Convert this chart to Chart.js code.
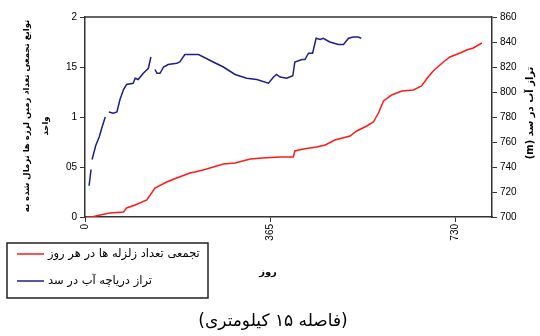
<!DOCTYPE html>
<html lang="fa">
<head>
  <meta charset="UTF-8">
  <title>Cumulative earthquakes and dam level</title>
  <script src="https://cdn.jsdelivr.net/npm/chart.js"></script>
  <style>
    html, body { margin: 0; padding: 0; background: #fff; }
    #wrap { width: 540px; height: 336px; }
  </style>
</head>
<body>
  <div id="wrap"><canvas id="chart" width="540" height="336"></canvas></div>
  <script>
    // x ticks (days) and left tick labels as they appear
    const dayTicks = [0, 365, 730];
    const leftTickLabels = { 0: '0', 0.5: '05', 1: '1', 1.5: '15', 2: '2' };

    // cumulative earthquakes (normalised), left axis
    const redDays = [3, 13, 30, 49, 76, 82, 99, 122, 138, 161, 181, 207, 217, 240, 273, 296, 326, 349, 385, 411, 414, 431, 457, 474, 493, 523, 536, 556, 569, 579, 589, 605, 625, 648, 664, 677, 687, 707, 720, 740, 753, 766, 783];
    const redValues = [0, 0, 0.02, 0.04, 0.05, 0.09, 0.12, 0.17, 0.29, 0.35, 0.39, 0.44, 0.45, 0.48, 0.53, 0.54, 0.58, 0.59, 0.60, 0.60, 0.66, 0.68, 0.70, 0.72, 0.77, 0.81, 0.86, 0.91, 0.95, 1.04, 1.16, 1.22, 1.26, 1.27, 1.31, 1.40, 1.46, 1.55, 1.60, 1.64, 1.67, 1.69, 1.74];

    // water level in the dam (m), right axis; null = gap
    const blueDays = [8, 12, 13, 14, 21, 28, 33, 40, 44, 47, 56, 63, 69, 76, 82, 95, 99, 105, 109, 115, 125, 130, 134, 138, 142, 148, 155, 164, 181, 187, 197, 224, 253, 273, 296, 319, 339, 362, 372, 378, 385, 398, 410, 414, 428, 434, 441, 449, 456, 464, 470, 483, 500, 510, 520, 529, 539, 545];
    const blueValues = [725, 738, null, 746, 757, 764, 771, 780, null, 784, 783, 784, 794, 802, 806, 807, 811, 810, 812, 815, 819, 828, null, 818, 815, 815, 820, 822, 823, 824, 830, 830, 824, 820, 814, 811, 810, 807, 812, 814, 812, 811, 813, 824, 826, 826, 831, 831, 843, 842, 843, 840, 838, 838, 843, 844, 844, 843];

    const redLabel = 'تجمعی تعداد زلزله ها در هر روز';
    const blueLabel = 'تراز دریاچه آب در سد';

    const toPoints = (xs, ys) => xs.map((x, i) => ({ x: x, y: ys[i] }));

    const persian = '"DejaVu Sans", sans-serif';

    const decor = {
      id: 'decor',
      afterDraw(chart) {
        const ctx = chart.ctx;
        const a = chart.chartArea;
        ctx.save();
        // top border of the plot box
        ctx.strokeStyle = '#333';
        ctx.lineWidth = 1.5;
        ctx.beginPath();
        ctx.moveTo(a.left, a.top);
        ctx.lineTo(a.right, a.top);
        ctx.stroke();

        ctx.fillStyle = '#000';
        ctx.textAlign = 'center';
        ctx.textBaseline = 'middle';

        // left title (two lines, rotated)
        ctx.save();
        ctx.translate(27, 116);
        ctx.rotate(-Math.PI / 2);
        ctx.font = 'bold 8.5px ' + persian;
        ctx.direction = 'rtl';
        ctx.fillText('توابع تجمعی تعداد زمین لرزه ها نرمال شده به', 0, 0);
        ctx.fillText('واحد', -10, 19);
        ctx.restore();

        // right title
        ctx.save();
        ctx.translate(530, 113);
        ctx.rotate(-Math.PI / 2);
        ctx.font = 'bold 10px ' + persian;
        ctx.direction = 'rtl';
        ctx.fillText('تراز آب در سد (m)', 0, 0);
        ctx.restore();

        // x title
        ctx.font = 'bold 10px ' + persian;
        ctx.direction = 'rtl';
        ctx.fillText('روز', 268, 272);

        // caption
        ctx.font = '17px ' + persian;
        ctx.fillText('(فاصله ۱۵ کیلومتری)', 273, 322);

        // legend box
        ctx.lineWidth = 1.5;
        ctx.strokeStyle = '#222';
        ctx.strokeRect(7, 243, 201, 55);
        const items = chart.data.datasets;
        const rows = [254, 281];
        items.forEach((ds, i) => {
          ctx.strokeStyle = ds.borderColor;
          ctx.lineWidth = 1.5;
          ctx.beginPath();
          ctx.moveTo(17, rows[i]);
          ctx.lineTo(44, rows[i]);
          ctx.stroke();
          ctx.fillStyle = '#000';
          ctx.font = '11.5px ' + persian;
          ctx.direction = 'ltr';
          ctx.textAlign = 'left';
          ctx.fillText(ds.label, 48, rows[i]);
        });
        ctx.restore();
      }
    };

    new Chart(document.getElementById('chart'), {
      type: 'line',
      data: {
        datasets: [{
          label: redLabel,
          data: toPoints(redDays, redValues),
          borderColor: '#ff1a1a',
          borderWidth: 1.5,
          pointRadius: 0,
          yAxisID: 'y',
          tension: 0
        }, {
          label: blueLabel,
          data: toPoints(blueDays, blueValues),
          borderColor: '#1c1f8c',
          borderWidth: 1.5,
          pointRadius: 0,
          spanGaps: false,
          yAxisID: 'y2',
          tension: 0
        }]
      },
      options: {
        responsive: false,
        animation: false,
        layout: { padding: { top: 17, left: 0, right: 0, bottom: 0 } },
        plugins: { legend: { display: false }, tooltip: { enabled: false } },
        scales: {
          x: {
            type: 'linear',
            min: 0,
            max: 803,
            afterBuildTicks: (axis) => { axis.ticks = dayTicks.map(v => ({ value: v })); },
            afterFit: (axis) => { axis.height = 119; },
            ticks: {
              minRotation: 90,
              maxRotation: 90,
              color: '#000',
              font: { family: 'Liberation Sans', size: 10 },
              padding: 2
            },
            grid: { drawOnChartArea: false, tickLength: 5, color: '#333' },
            border: { color: '#333', width: 1.5 }
          },
          y: {
            position: 'left',
            min: 0,
            max: 2,
            afterFit: (axis) => { axis.width = 85; },
            ticks: {
              stepSize: 0.5,
              color: '#000',
              font: { family: 'Liberation Sans', size: 10 },
              padding: 3,
              callback: (v) => leftTickLabels[v]
            },
            grid: { drawOnChartArea: false, tickLength: 5, color: '#333' },
            border: { color: '#333', width: 1.5 }
          },
          y2: {
            position: 'right',
            min: 700,
            max: 860,
            afterFit: (axis) => { axis.width = 48; },
            ticks: {
              stepSize: 20,
              color: '#000',
              font: { family: 'Liberation Sans', size: 10 },
              padding: 3
            },
            grid: { drawOnChartArea: false, tickLength: 5, color: '#333' },
            border: { color: '#333', width: 1.5 }
          }
        }
      },
      plugins: [decor]
    });
  </script>
</body>
</html>
